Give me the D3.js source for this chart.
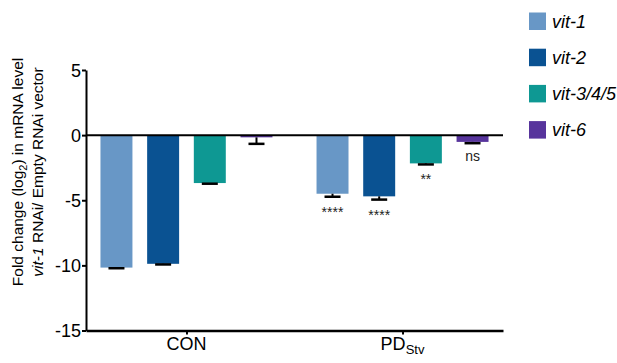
<!DOCTYPE html>
<html>
<head>
<meta charset="utf-8">
<script src="https://cdn.jsdelivr.net/npm/d3@7"></script>
<style>
  body { margin: 0; background: #fff; }
  svg { font-family: "Liberation Sans", Arial, sans-serif; }
</style>
</head>
<body>
<svg id="chart" width="617" height="363"></svg>
<script>
var groups = ["CON", "PD"]
var genes = ["vit-1", "vit-2", "vit-3/4/5", "vit-6"]
var colors = ["#6897c6", "#0a5292", "#0e9893", "#57349c"]
var conValues = [-10.17, -9.88, -3.68, -0.17]
var conErrors = [0.05, 0.05, 0.05, 0.5]
var pdValues = [-4.5, -4.7, -2.17, -0.52]
var pdErrors = [0.23, 0.25, 0.08, 0.1]
var pdStars = ["****", "****", "**", "ns"]
var yTicks = [5, 0, -5, -10, -15]

var svg = d3.select("#chart")
var margin = { top: 70, left: 86, bottom: 32.5, right: 114 }
var width = 617 - margin.left - margin.right
var height = 363 - margin.top - margin.bottom

var g = svg.append("g").attr("transform", `translate(${margin.left},${margin.top})`)

var y = d3.scaleLinear().domain([-15, 5]).range([height, 0])

// group centres
var x0 = d3.scalePoint().domain(groups).range([0, width]).padding(0.465)
var groupSpan = 172
var x1 = d3.scaleBand().domain(genes).range([-groupSpan / 2, groupSpan / 2]).paddingInner(0.315).paddingOuter(0)

var rows = []
groups.forEach(function (grp, gi) {
    genes.forEach(function (gene, i) {
        rows.push({
            group: grp, gene: gene, color: colors[i],
            value: gi == 0 ? conValues[i] : pdValues[i],
            err: gi == 0 ? conErrors[i] : pdErrors[i],
            star: gi == 0 ? "" : pdStars[i]
        })
    })
})

var cx = d => x0(d.group) + x1(d.gene) + x1.bandwidth() / 2

// bars
g.selectAll("rect.bar")
    .data(rows)
    .join("rect")
    .attr("class", "bar")
    .attr("x", d => x0(d.group) + x1(d.gene))
    .attr("y", y(0))
    .attr("width", x1.bandwidth())
    .attr("height", d => y(d.value) - y(0))
    .attr("fill", d => d.color)

// error bars (downward only)
var cap = 8
var eb = g.selectAll("g.err").data(rows).join("g").attr("class", "err")
eb.append("line")
    .attr("x1", cx).attr("x2", cx)
    .attr("y1", d => y(d.value))
    .attr("y2", d => y(d.value - d.err))
    .attr("stroke", "#000").attr("stroke-width", 2)
eb.append("line")
    .attr("x1", d => cx(d) - cap)
    .attr("x2", d => cx(d) + cap)
    .attr("y1", d => y(d.value - d.err))
    .attr("y2", d => y(d.value - d.err))
    .attr("stroke", "#000").attr("stroke-width", 2.5)

// significance labels
g.selectAll("text.star")
    .data(rows.filter(d => d.star))
    .join("text")
    .attr("class", "star")
    .attr("x", cx)
    .attr("y", d => y(d.value - d.err) + (d.star == "ns" ? 18 : 20))
    .attr("text-anchor", "middle")
    .attr("font-size", 14)
    .attr("fill", "#222")
    .text(d => d.star)

// zero line
g.append("line")
    .attr("x1", 0).attr("x2", width)
    .attr("y1", y(0)).attr("y2", y(0))
    .attr("stroke", "#000").attr("stroke-width", 2)

// y axis
var yAxis = g.append("g")
    .call(d3.axisLeft(y).tickValues(yTicks).tickSize(4).tickSizeOuter(0).tickFormat(d => String(d)))
yAxis.attr("font-family", null)
yAxis.select(".domain").attr("stroke-width", 2)
yAxis.selectAll(".tick line").attr("stroke-width", 2)
yAxis.selectAll(".tick text").attr("font-size", 18).attr("fill", "#000").attr("x", -5).attr("dy", "0.35em")

// x axis
var xAxis = g.append("g")
    .attr("transform", `translate(0,${height})`)
    .call(d3.axisBottom(x0).tickSize(4).tickSizeOuter(0).tickFormat(""))
xAxis.select(".domain").attr("stroke-width", 2.5)
xAxis.selectAll(".tick line").attr("stroke-width", 2)

g.append("text")
    .attr("x", x0("CON"))
    .attr("y", height + 19.5)
    .attr("text-anchor", "middle")
    .attr("font-size", 18)
    .text("CON")

var pdLabel = g.append("text")
    .attr("y", height + 19.5)
    .attr("font-size", 18)
    .attr("text-anchor", "start")
pdLabel.append("tspan").text("PD")
pdLabel.append("tspan").attr("font-size", 13).attr("dy", 4).text("Stv")
var pw = pdLabel.node().getComputedTextLength()
pdLabel.attr("x", x0("PD") - pw / 2)

// y title
var cy = 172
svg.append("text")
    .attr("transform", `translate(23,${cy}) rotate(-90)`)
    .attr("text-anchor", "middle")
    .attr("font-size", 15.5)
    .call(t => {
        t.append("tspan").text("Fold change (log")
        t.append("tspan").attr("font-size", 11).attr("dy", 4).text("2")
        t.append("tspan").attr("dy", -4).text(") in mRNA level")
    })
svg.append("text")
    .attr("transform", `translate(43,${cy}) rotate(-90)`)
    .attr("text-anchor", "middle")
    .attr("font-size", 15.5)
    .call(t => {
        t.append("tspan").attr("font-style", "italic").text("vit-1")
        t.append("tspan").text(" RNAi/ Empty RNAi vector")
    })

// legend
var legend = svg.append("g").attr("transform", "translate(529,12.5)")
var li = legend.selectAll("g").data(genes).join("g")
    .attr("transform", (d, i) => `translate(0,${i * 36.2})`)
li.append("rect").attr("width", 17).attr("height", 17.5).attr("fill", (d, i) => colors[i])
li.append("text").attr("x", 23).attr("y", 15)
    .attr("font-size", 18).attr("font-style", "italic").text(d => d)
</script>
</body>
</html>
